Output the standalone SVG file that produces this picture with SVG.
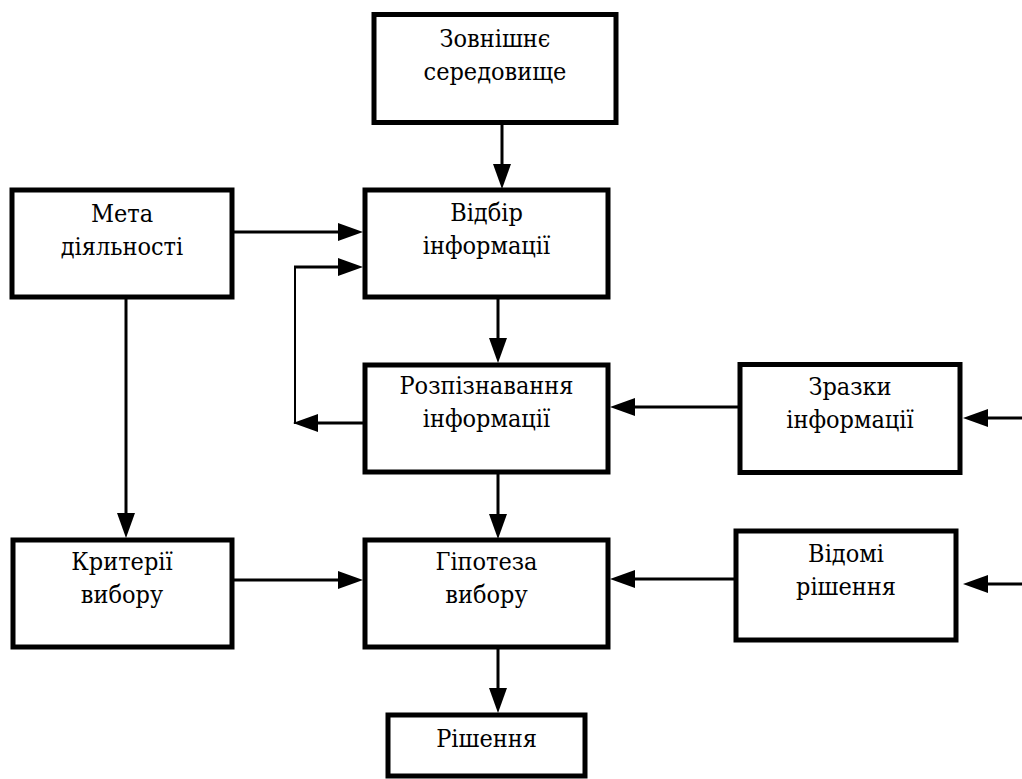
<svg xmlns="http://www.w3.org/2000/svg" width="1022" height="779" viewBox="0 0 1022 779">
<style>
.box{fill:#fff;stroke:#000;stroke-width:5}
.ln{fill:none;stroke:#000;stroke-width:3}
</style>
<defs>
<marker id="ah" markerUnits="userSpaceOnUse" markerWidth="26" markerHeight="18" refX="15" refY="9" orient="auto">
<path d="M0,0 L25,9 L0,18 z" fill="#000"/>
</marker>
</defs>
<rect width="1022" height="779" fill="#fff"/>
<g id="connectors">
<line class="ln" x1="502" y1="122" x2="502" y2="179" marker-end="url(#ah)"/>
<line class="ln" x1="232" y1="232" x2="353" y2="232" marker-end="url(#ah)"/>
<line fill="none" stroke="#000" stroke-width="2" x1="295" y1="424" x2="295" y2="266"/>
<line class="ln" x1="294" y1="267" x2="353" y2="267" marker-end="url(#ah)"/>
<line class="ln" x1="365" y1="423" x2="303" y2="423" marker-end="url(#ah)"/>
<line class="ln" x1="126" y1="297" x2="126" y2="528" marker-end="url(#ah)"/>
<line class="ln" x1="498" y1="297" x2="498" y2="353" marker-end="url(#ah)"/>
<line class="ln" x1="498" y1="472" x2="498" y2="529" marker-end="url(#ah)"/>
<line class="ln" x1="740" y1="407" x2="620" y2="407" marker-end="url(#ah)"/>
<line class="ln" x1="1022" y1="418" x2="973" y2="418" marker-end="url(#ah)"/>
<line class="ln" x1="232" y1="580" x2="353" y2="580" marker-end="url(#ah)"/>
<line class="ln" x1="736" y1="579" x2="620" y2="579" marker-end="url(#ah)"/>
<line class="ln" x1="1022" y1="584" x2="973" y2="584" marker-end="url(#ah)"/>
<line class="ln" x1="498" y1="647" x2="498" y2="703" marker-end="url(#ah)"/>
</g>
<g font-family="DejaVu Serif Condensed, DejaVu Serif, serif" font-stretch="condensed" font-size="25" text-anchor="middle" fill="#000">
<g id="n-zovnishnie">
<rect class="box" x="374" y="14.5" width="242" height="108"/>
<text x="495" y="47">Зовнішнє</text>
<text x="495" y="80">середовище</text>
</g>
<g id="n-meta">
<rect class="box" x="12" y="190" width="220" height="107"/>
<text x="122" y="222">Мета</text>
<text x="122" y="255">діяльності</text>
</g>
<g id="n-vidbir">
<rect class="box" x="365" y="190" width="243" height="107"/>
<text x="486.5" y="221">Відбір</text>
<text x="486.5" y="254">інформації</text>
</g>
<g id="n-rozpiznavannia">
<rect class="box" x="365" y="365" width="243" height="107"/>
<text x="486.5" y="394">Розпізнавання</text>
<text x="486.5" y="427">інформації</text>
</g>
<g id="n-zrazky">
<rect class="box" x="740" y="364.5" width="220" height="108"/>
<text x="850" y="395">Зразки</text>
<text x="850" y="428">інформації</text>
</g>
<g id="n-kryterii">
<rect class="box" x="13" y="540" width="219" height="107"/>
<text x="122" y="570">Критерії</text>
<text x="122" y="603">вибору</text>
</g>
<g id="n-hipoteza">
<rect class="box" x="365" y="540" width="243" height="107"/>
<text x="486.5" y="570">Гіпотеза</text>
<text x="486.5" y="603">вибору</text>
</g>
<g id="n-vidomi">
<rect class="box" x="736" y="531" width="220" height="109"/>
<text x="846" y="562">Відомі</text>
<text x="846" y="595">рішення</text>
</g>
<g id="n-rishennia">
<rect class="box" x="388" y="715" width="197" height="61"/>
<text x="486.5" y="747">Рішення</text>
</g>
</g>
</svg>
